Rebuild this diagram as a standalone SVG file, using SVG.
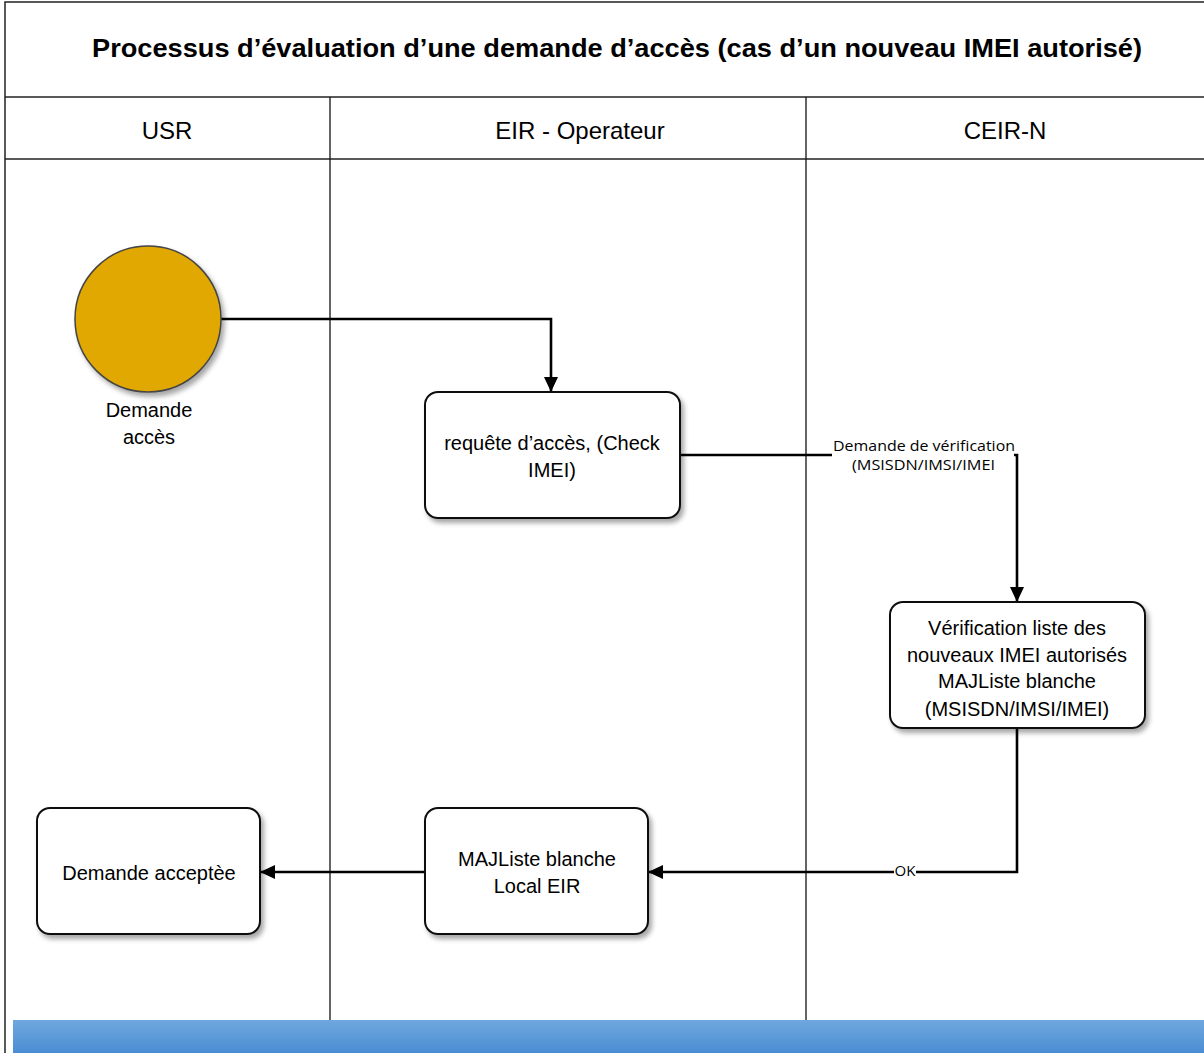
<svg xmlns="http://www.w3.org/2000/svg" width="1204" height="1053" viewBox="0 0 1204 1053">
<style>
.frame{fill:none;stroke:#222;stroke-width:1.5}
.lane{stroke:#111;stroke-width:1.3}
.title{font-family:"Liberation Sans",Arial,sans-serif;font-weight:bold;font-size:26px;fill:#000}
.hdr{font-family:"Liberation Sans",Arial,sans-serif;font-size:24px;fill:#000;text-anchor:middle}
.box{fill:#fff;stroke:#111;stroke-width:2}
.t{font-family:"Liberation Sans",Arial,sans-serif;font-size:20px;fill:#000;text-anchor:middle}
.lbl{font-family:"Open Sans","Liberation Sans",sans-serif;font-size:15px;fill:#000}
.edge{fill:none;stroke:#000;stroke-width:2.6}
</style>
<defs>
<filter id="sh" x="-10%" y="-10%" width="130%" height="130%">
<feDropShadow dx="3" dy="4" stdDeviation="2.5" flood-color="#000" flood-opacity="0.35"/>
</filter>
<marker id="ar" markerWidth="16" markerHeight="14" refX="14" refY="7" orient="auto" markerUnits="userSpaceOnUse">
<path d="M0,0 L15,7 L0,14 Z" fill="#000"/>
</marker>
<linearGradient id="bl" x1="0" y1="0" x2="0" y2="1">
<stop offset="0" stop-color="#6FA8DF"/>
<stop offset="1" stop-color="#4A8DD3"/>
</linearGradient>
</defs>
<rect width="1204" height="1053" fill="#fff"/>
<g id="pool">
<rect x="5" y="2" width="1210" height="1060" class="frame"/>
<line x1="5" y1="97" x2="1204" y2="97" class="frame"/>
<line x1="5" y1="159" x2="1204" y2="159" class="frame"/>
<line x1="330" y1="97" x2="330" y2="1053" class="lane"/>
<line x1="806" y1="97" x2="806" y2="1053" class="lane"/>
<text x="92" y="57" class="title" textLength="1050" lengthAdjust="spacingAndGlyphs">Processus d’évaluation d’une demande d’accès (cas d’un nouveau IMEI autorisé)</text>
<text x="167" y="139" class="hdr">USR</text>
<text x="580" y="139" class="hdr">EIR - Operateur</text>
<text x="1005" y="139" class="hdr">CEIR-N</text>
</g>
<rect x="13" y="1020" width="1191" height="33" fill="url(#bl)"/>
<g id="connectors">
<path d="M221,319 H551 V391" class="edge" marker-end="url(#ar)"/>
<path d="M680,455 H1017 V601" class="edge" marker-end="url(#ar)"/>
<rect x="832" y="437" width="182" height="36" fill="#fff"/>
<text x="833" y="451" class="lbl" textLength="182" lengthAdjust="spacingAndGlyphs">Demande de vérification</text>
<text x="852" y="470" class="lbl" textLength="143" lengthAdjust="spacingAndGlyphs">(MSISDN/IMSI/IMEI</text>
<path d="M1017,728 V872 H649" class="edge" marker-end="url(#ar)"/>
<rect x="894" y="864" width="22" height="16" fill="#fff"/>
<text x="905" y="876" class="lbl" font-size="11" text-anchor="middle">OK</text>
<path d="M425,872 H261" class="edge" marker-end="url(#ar)"/>
</g>
<g id="start">
<circle cx="148" cy="319" r="73" fill="#E0A800" stroke="#444" stroke-width="1.5" filter="url(#sh)"/>
<text x="149" y="417" class="t" font-size="18">Demande</text>
<text x="149" y="444" class="t" font-size="18">accès</text>
</g>
<g id="n1">
<rect x="425" y="392" width="255" height="126" rx="13" class="box" filter="url(#sh)"/>
<text x="552" y="450" class="t">requête d’accès, (Check</text>
<text x="552" y="477" class="t">IMEI)</text>
</g>
<g id="n2">
<rect x="890" y="602" width="255" height="126" rx="13" class="box" filter="url(#sh)"/>
<text x="1017" y="635" class="t">Vérification liste des</text>
<text x="1017" y="662" class="t">nouveaux IMEI autorisés</text>
<text x="1017" y="688" class="t">MAJListe blanche</text>
<text x="1017" y="716" class="t">(MSISDN/IMSI/IMEI)</text>
</g>
<g id="n3">
<rect x="425" y="808" width="223" height="126" rx="13" class="box" filter="url(#sh)"/>
<text x="537" y="866" class="t">MAJListe blanche</text>
<text x="537" y="893" class="t">Local EIR</text>
</g>
<g id="n4">
<rect x="37" y="808" width="223" height="126" rx="13" class="box" filter="url(#sh)"/>
<text x="149" y="880" class="t">Demande acceptèe</text>
</g>
</svg>
